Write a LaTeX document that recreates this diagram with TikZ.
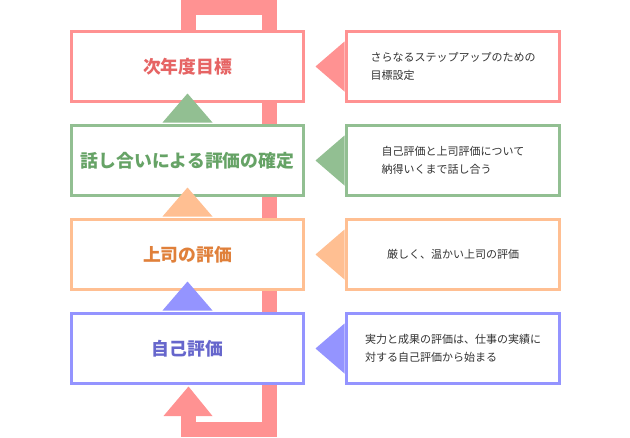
\documentclass[tikz,border=0pt]{standalone}
\usepackage{fontspec}
\setmainfont{Noto Sans CJK JP}
\usetikzlibrary{calc}
\definecolor{cpink}{HTML}{FF9292}
\definecolor{cgreen}{HTML}{92BF92}
\definecolor{corange}{HTML}{FFBF92}
\definecolor{cblue}{HTML}{9494FF}
\definecolor{tpink}{HTML}{E66464}
\definecolor{tgreen}{HTML}{66A366}
\definecolor{torange}{HTML}{E0803A}
\definecolor{tblue}{HTML}{6666CC}
\definecolor{tgray}{HTML}{333333}
\tikzset{
  stagebox/.style={draw=#1, fill=white, line width=3pt, minimum width=232pt, minimum height=70pt, inner sep=0pt, font=\fontsize{17.8pt}{20pt}\selectfont\bfseries},
  notebox/.style={draw=#1, fill=white, line width=3pt, minimum width=213pt, minimum height=70pt, inner sep=0pt, align=left, text=tgray, font=\fontsize{11pt}{18pt}\selectfont},
  rail/.style={draw=cpink, line width=15pt, line join=miter, line cap=butt},
}
\begin{document}
\begin{tikzpicture}[x=1pt,y=-1pt]
\useasboundingbox (0,0) rectangle (630,437);
% loop rail
\coordinate (railstart) at (188.5,32);
\coordinate (railend) at (188.5,416);
\draw[rail] (railstart) -- (188.5,7.5) -- (269.5,7.5) -- (269.5,429.5) -- (188.5,429.5) -- (railend);
% left stage boxes
\node[stagebox=cpink, text=tpink] (s1) at (187.5,66.5) {次年度目標};
\node[stagebox=cgreen, text=tgreen] (s2) at (187.5,160.5) {話し合いによる評価の確定};
\node[stagebox=corange, text=torange] (s3) at (187.5,254.5) {上司の評価};
\node[stagebox=cblue, text=tblue] (s4) at (187.5,348.5) {自己評価};
% right note boxes
\node[notebox=cpink] (n1) at (453,66.5) {さらなるステップアップのための\\目標設定};
\node[notebox=cgreen] (n2) at (453,160.5) {自己評価と上司評価について\\納得いくまで話し合う};
\node[notebox=corange] (n3) at (453,254.5) {厳しく、温かい上司の評価};
\node[notebox=cblue] (n4) at (453,348.5) {実力と成果の評価は、仕事の実績に\\対する自己評価から始まる};
% up arrows between stages
\foreach \lo/\col in {s2/cgreen, s3/corange, s4/cblue}{
  \fill[\col] ($(\lo.north)+(-25,-1.5)$) -- ($(\lo.north)+(25,-1.5)$) -- ($(\lo.north)+(0,-30.5)$) -- cycle;
}
% bottom arrow head of loop
\fill[cpink] ($(railend)+(-25,0)$) -- ($(railend)+(24,0)$) -- ($(railend)+(0,-29.5)$) -- cycle;
% pointers from notes to stages
\foreach \n/\col in {n1/cpink, n2/cgreen, n3/corange, n4/cblue}{
  \fill[\col] ($(\n.west)+(-0.5,-25)$) -- ($(\n.west)+(-0.5,25)$) -- ($(\n.west)+(-29.5,0)$) -- cycle;
}
\end{tikzpicture}
\end{document}
